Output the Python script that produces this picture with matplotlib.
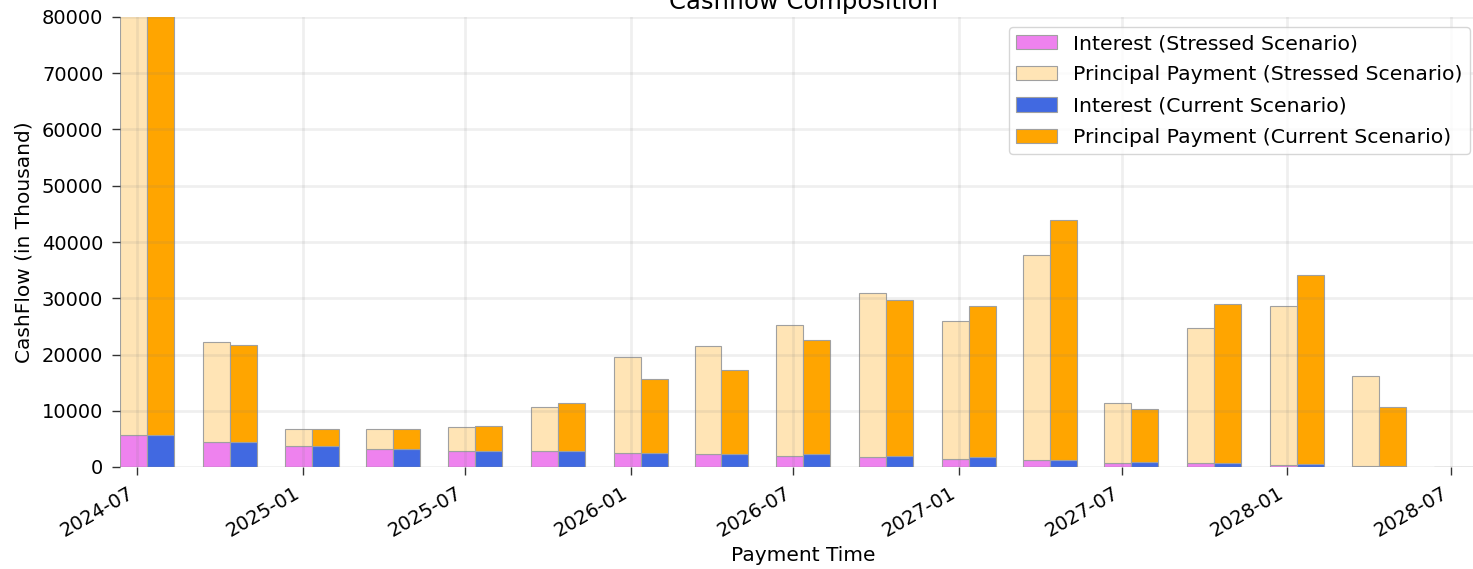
import matplotlib
matplotlib.use("Agg")
import matplotlib.pyplot as plt
import matplotlib.dates as mdates
import pandas as pd
import numpy as np

# ---- data (in thousand) ----
dates = pd.to_datetime([
    "2024-07-12", "2024-10-12", "2025-01-12", "2025-04-12", "2025-07-12",
    "2025-10-12", "2026-01-12", "2026-04-12", "2026-07-12", "2026-10-12",
    "2027-01-12", "2027-04-12", "2027-07-12", "2027-10-12", "2028-01-12",
    "2028-04-12", "2028-07-12"])

interest_stressed = [5750, 4450, 3680, 3140, 2850, 2850, 2560, 2310, 2030, 1720,
                     1490, 1245, 710, 710, 430, 150, 0]
total_stressed = [92000, 22170, 6810, 6810, 7050, 10740, 19560, 21580, 25250, 31010,
                  26030, 37640, 11450, 24780, 28700, 16130, 0]
interest_current = [5750, 4450, 3680, 3140, 2850, 2850, 2560, 2310, 2310, 2030,
                    1720, 1245, 960, 780, 480, 170, 0]
total_current = [92000, 21690, 6810, 6810, 7290, 11450, 15650, 17190, 22650, 29690,
                 28700, 43900, 10380, 28980, 34210, 10670, 0]

principal_stressed = np.array(total_stressed) - np.array(interest_stressed)
principal_current = np.array(total_current) - np.array(interest_current)

width = pd.Timedelta(days=30)

fig = plt.figure(figsize=(14.73, 5.69), dpi=100)
ax = fig.add_axes([120/1473, (569-467)/569, (1487.5-120)/1473, 450/569])

edge = dict(edgecolor="#a0a0a0", linewidth=0.8)
ax.bar(dates, interest_stressed, width=-width, align="edge", color="violet",
       label="Interest (Stressed Scenario)", **edge)
ax.bar(dates, principal_stressed, width=-width, align="edge", bottom=interest_stressed,
       color="moccasin", label="Principal Payment (Stressed Scenario)", **edge)
ax.bar(dates, interest_current, width=width, align="edge", color="royalblue",
       label="Interest (Current Scenario)", **edge)
ax.bar(dates, principal_current, width=width, align="edge", bottom=interest_current,
       color="orange", label="Principal Payment (Current Scenario)", **edge)

ax.margins(x=0)
ax.set_ylim(0, 80000)
ax.xaxis.set_major_locator(mdates.MonthLocator(bymonth=(1, 7)))
ax.xaxis.set_major_formatter(mdates.DateFormatter("%Y-%m"))
ax.set_axisbelow(False)
ax.grid(True, color="gray", alpha=0.12, linewidth=2)
for s in ax.spines.values():
    s.set_visible(False)
ax.tick_params(axis="both", labelsize=14, length=6, width=1, pad=6, color="#333333")
plt.setp(ax.get_xticklabels(), rotation=30, ha="right", rotation_mode="default")

ax.set_xlabel("Payment Time", fontsize=14.5)
ax.set_ylabel("CashFlow (in Thousand)", fontsize=14.5, labelpad=6)
ax.set_title("Cashflow Composition", fontsize=17.5)

ax.legend(loc="upper right", bbox_to_anchor=(1470/1473, (569-27)/569),
          bbox_transform=fig.transFigure, borderaxespad=0, fontsize=14.7,
          labelspacing=0.6, handletextpad=0.8, borderpad=0.35)

fig.savefig("out.png", dpi=100)
